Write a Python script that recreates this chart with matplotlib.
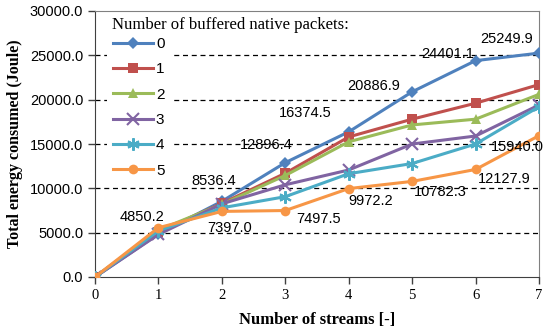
import matplotlib
matplotlib.use("Agg")
import matplotlib.pyplot as plt

streams = [0, 1, 2, 3, 4, 5, 6, 7]
series_names = ["0", "1", "2", "3", "4", "5"]
s0 = [0, 4850.2, 8536.4, 12896.4, 16374.5, 20886.9, 24401.1, 25249.9]
s1 = [0, 5100, 8300, 11700, 15800, 17800, 19600, 21700]
s2 = [0, 5300, 8200, 11450, 15250, 17150, 17800, 20600]
s3 = [0, 4800, 8250, 10400, 12070, 15000, 15900, 19400]
s4 = [0, 5200, 7800, 9060, 11650, 12800, 15000, 19200]
s5 = [0, 5560, 7397.0, 7497.5, 9972.2, 10782.3, 12127.9, 15940.0]
yticks = [0, 5000, 10000, 15000, 20000, 25000, 30000]

colors = ["#4F81BD", "#C0504D", "#9BBB59", "#8064A2", "#4BACC6", "#F79646"]
markers = ["D", "s", "^", "x", (6, 2, 0), "o"]
msizes = [6, 7, 7, 8, 9, 7]

fig = plt.figure(figsize=(5.5, 3.33), dpi=100)
ax = fig.add_axes([95/550, 1 - 277/333, (539-95)/550, (277-11)/333])

all_series = [s0, s1, s2, s3, s4, s5]
for i, (name, vals, c, m, ms) in enumerate(zip(series_names, all_series, colors, markers, msizes)):
    if i in (3, 4):
        kw = dict(markeredgewidth=1.5)
    else:
        kw = dict(markeredgewidth=0)
    ax.plot(streams, vals, color=c, marker=m, markersize=ms, linewidth=2.2,
            label=name, **kw, zorder=3)

ax.set_xlim(0, 7)
ax.set_ylim(0, 30000)
ax.set_yticks(yticks)
ax.set_yticklabels([f"{v:.1f}" for v in yticks], family="Liberation Sans", fontsize=10.5)
ax.set_xticks(streams)
ax.set_xticklabels([str(s) for s in streams], family="Liberation Serif", fontsize=10.5)
for v in yticks[1:-1]:
    ax.axhline(v, color="black", linestyle=(0, (4, 3)), linewidth=0.9, zorder=1)

ax.spines["top"].set_color("#808080")
ax.spines["right"].set_color("#808080")
ax.spines["left"].set_color("#404040")
ax.spines["bottom"].set_color("#404040")
ax.tick_params(direction="out", length=5, width=1, color="#404040")

ax.set_ylabel("Total energy consumed (Joule)", family="Liberation Serif",
              fontweight="bold", fontsize=11.5, labelpad=5)
ax.set_xlabel("Number of streams [-]", family="Liberation Serif",
              fontweight="bold", fontsize=12, labelpad=7)

# data labels for series 0 (offsets in pixels)
off0 = [None, (-16, 17), (-8, 20), (-19, 18), (-43, 19), (-38, 6), (-28, 7), (-32, 14)]
for x, y, o in zip(streams, s0, off0):
    if o is None:
        continue
    ax.annotate(f"{y:.1f}", (x, y), xytext=o, textcoords="offset pixels",
                ha="center", va="center", family="Liberation Sans", fontsize=10.5, zorder=4)
off5 = [None, None, (8, -17), (33, -8), (22, -12), (28, -11), (29, -10), (-22, -11)]
for x, y, o in zip(streams, s5, off5):
    if o is None:
        continue
    ax.annotate(f"{y:.1f}", (x, y), xytext=o, textcoords="offset pixels",
                ha="center", va="center", family="Liberation Sans", fontsize=10.5, zorder=4)

leg = ax.legend(loc="upper left", bbox_to_anchor=(107/550, 1 - 31/333),
                bbox_transform=fig.transFigure, frameon=True, facecolor="white",
                edgecolor="none", framealpha=1, fancybox=False, handlelength=2.6,
                labelspacing=0.74, handletextpad=0.2, borderaxespad=0, borderpad=0.4,
                prop={"family": "Liberation Sans", "size": 11})
leg.set_zorder(5)
fig.text(112/550, 1 - 25/333, "Number of buffered native packets:", family="Liberation Serif",
         fontsize=12, ha="left", va="center")

fig.savefig("out.png", dpi=100)
